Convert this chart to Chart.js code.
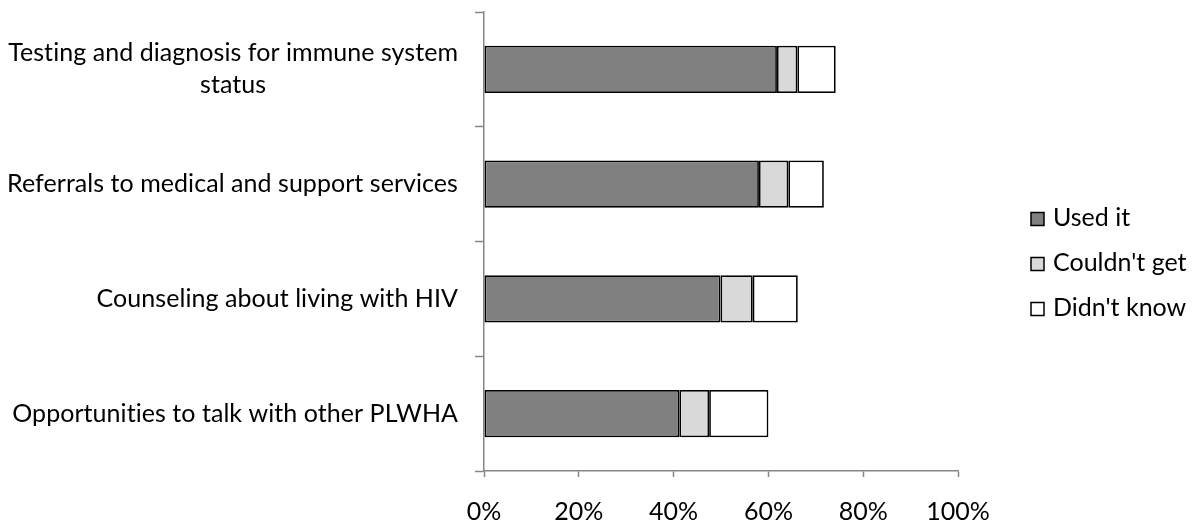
<!DOCTYPE html>
<html>
<head>
<meta charset="utf-8">
<script src="https://cdn.jsdelivr.net/npm/chart.js@4.4.1/dist/chart.umd.min.js"></script>
<style>
  html, body { margin: 0; padding: 0; background: #fff; }
  #wrap { width: 1192px; height: 527px; position: relative; }
  canvas { font-variant-ligatures: none; }
</style>
</head>
<body>
<div id="wrap"><canvas id="chartMain"></canvas></div>
<script>
const categories = [
  ['Testing and diagnosis for immune system', 'status'],
  ['Referrals to medical and support services'],
  ['Counseling about living with HIV'],
  ['Opportunities to talk with other PLWHA']
];
const usedIt = [61.8, 58.0, 49.9, 41.2];
const couldntGet = [4.3, 6.2, 6.8, 6.3];
const didntKnow = [8.1, 7.5, 9.5, 12.5];
const xTicks = [0, 20, 40, 60, 80, 100];

const FONT = "Lato, 'Open Sans', sans-serif";
const FONT_SIZE = 25;
const axisColor = '#868686';

const barCanvas = document.getElementById('chartMain');

const dataBar = {
  labels: categories,
  datasets: [
    { label: 'Used it', data: usedIt, backgroundColor: '#808080' },
    { label: "Couldn't get", data: couldntGet, backgroundColor: '#d9d9d9' },
    { label: "Didn't know", data: didntKnow, backgroundColor: '#ffffff' }
  ].map(ds => ({
    ...ds,
    borderColor: '#000000',
    borderWidth: 1.75,
    borderSkipped: false,
    barPercentage: 0.41,
    categoryPercentage: 1
  }))
};

// category labels: wrapped lines centred inside a right-aligned block
const categoryLabels = {
  id: 'categoryLabels',
  afterDraw: chart => {
    const ctx = chart.ctx;
    const yScale = chart.scales.y;
    const right = chart.chartArea.left - 26;
    const lineH = 32;
    ctx.save();
    ctx.font = `${FONT_SIZE}px ${FONT}`;
    // tiny spacing so Lato does not join "ti" into a ligature
    ctx.letterSpacing = '0.05px';
    ctx.fillStyle = '#000';
    ctx.textBaseline = 'middle';
    ctx.textAlign = 'center';
    categories.forEach((lines, i) => {
      const yc = yScale.getPixelForValue(i);
      const w = Math.max(...lines.map(l => ctx.measureText(l).width));
      const cx = right - w / 2;
      const y0 = yc - (lines.length - 1) * lineH / 2;
      lines.forEach((l, j) => ctx.fillText(l, cx, y0 + j * lineH));
    });
    ctx.restore();
  }
};

// legend on the right, square keys with black outline
const sideLegend = {
  id: 'sideLegend',
  afterDraw: chart => {
    const ctx = chart.ctx;
    const x = chart.chartArea.right + 73;
    const gap = 45;
    const ds = chart.data.datasets;
    const y0 = chart.height / 2 - gap;
    ctx.save();
    ctx.font = `${FONT_SIZE}px ${FONT}`;
    ctx.textBaseline = 'middle';
    ctx.textAlign = 'left';
    ds.forEach((d, i) => {
      const y = y0 + i * gap;
      ctx.fillStyle = d.backgroundColor;
      ctx.fillRect(x, y - 6, 13, 13);
      ctx.lineWidth = 1.5;
      ctx.strokeStyle = '#000';
      ctx.strokeRect(x, y - 6, 13, 13);
      ctx.fillStyle = '#000';
      ctx.fillText(d.label, x + 22, y - 1);
    });
    ctx.restore();
  }
};

const configBar = {
  type: 'bar',
  data: dataBar,
  options: {
    indexAxis: 'y',
    responsive: true,
    maintainAspectRatio: false,
    animation: false,
    layout: {
      padding: { top: 12, left: 475, right: 234, bottom: 0 }
    },
    scales: {
      x: {
        stacked: true,
        min: 0,
        max: 100,
        afterBuildTicks: scale => {
          scale.ticks = xTicks.map(v => ({ value: v }));
        },
        afterFit: scale => {
          scale.height = 56;
        },
        ticks: {
          callback: v => v + '%',
          color: '#000',
          padding: 20,
          maxRotation: 0,
          font: { family: FONT, size: FONT_SIZE }
        },
        grid: {
          drawOnChartArea: false,
          tickLength: 6,
          tickWidth: 1.5,
          tickColor: axisColor
        },
        border: { color: axisColor, width: 1.5 }
      },
      y: {
        stacked: true,
        ticks: { display: false },
        grid: {
          drawOnChartArea: false,
          offset: true,
          tickLength: 9,
          tickWidth: 1.5,
          tickColor: axisColor
        },
        border: { color: axisColor, width: 1.5 }
      }
    },
    plugins: {
      legend: { display: false },
      tooltip: { enabled: false }
    }
  },
  plugins: [categoryLabels, sideLegend]
};

const chartMain = new Chart(barCanvas, configBar);
</script>
</body>
</html>
